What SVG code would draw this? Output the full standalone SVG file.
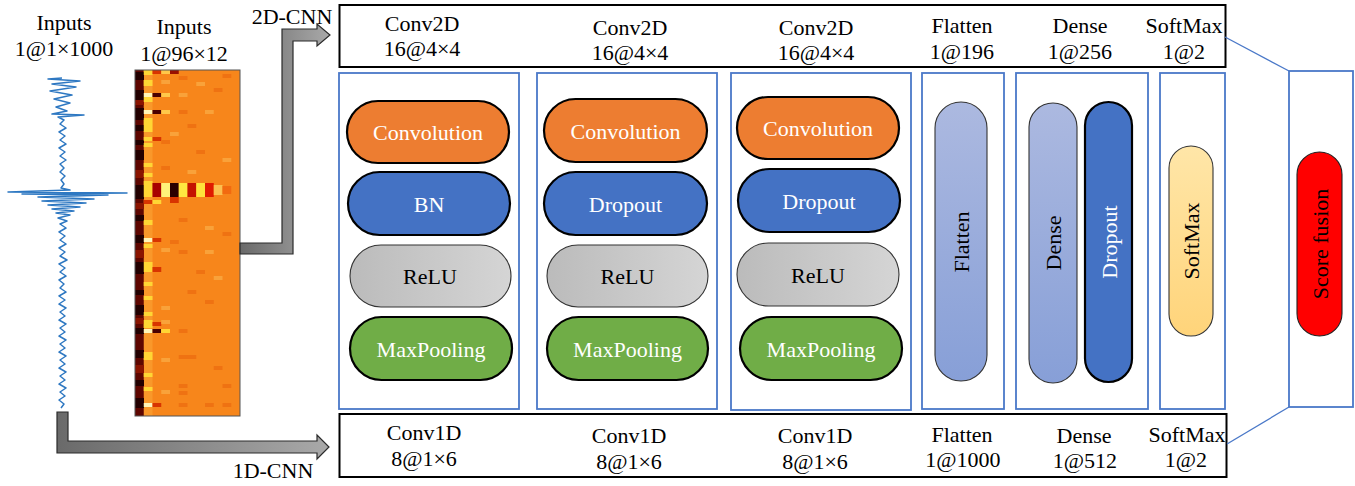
<svg xmlns="http://www.w3.org/2000/svg" width="1355" height="486" viewBox="0 0 1355 486">
<defs>
<linearGradient id="arrowGrad" x1="0" y1="0" x2="1" y2="0"><stop offset="0" stop-color="#6a6a6a"/><stop offset="1" stop-color="#a9a9a9"/></linearGradient>
<linearGradient id="reluGrad" x1="0" y1="0" x2="1" y2="0"><stop offset="0" stop-color="#bbbbbb"/><stop offset="1" stop-color="#d5d5d5"/></linearGradient>
<linearGradient id="blueGrad" x1="0" y1="0" x2="0" y2="1"><stop offset="0" stop-color="#acb9e0"/><stop offset="1" stop-color="#879fd7"/></linearGradient>
<linearGradient id="softGrad" x1="0" y1="0" x2="0" y2="1"><stop offset="0" stop-color="#ffe6a8"/><stop offset="1" stop-color="#ffd47a"/></linearGradient>
</defs>
<style>
text{font-family:"Liberation Serif","Times New Roman",serif;font-size:22px;text-anchor:middle;fill:#000}
.w{fill:#fff}
.box{fill:#fff;stroke:#000;stroke-width:2}
.frame{fill:#fff;stroke:#4a78c8;stroke-width:1.8}
.conv{fill:#ed7d31;stroke:#000;stroke-width:2.2}
.blue{fill:#4472c4;stroke:#000;stroke-width:2.2}
.relu{fill:url(#reluGrad);stroke:#333;stroke-width:1.1}
.pool{fill:#70ad47;stroke:#000;stroke-width:2.2}
.lb{fill:url(#blueGrad);stroke:#333;stroke-width:1.1}
.soft{fill:url(#softGrad);stroke:#333;stroke-width:1.1}
.fus{fill:#ff0000;stroke:#222;stroke-width:1.1}
.arrow{fill:url(#arrowGrad);stroke:#2b2b2b;stroke-width:1.2}
.link{fill:none;stroke:#4a78c8;stroke-width:1.3}
.dk{fill:#220000}.dr{fill:#8a1400}.ye{fill:#ffd634}.wy{fill:#fff6b8}.rd{fill:#d83400}.lo{fill:#f9a23a}.do{fill:#ef7212}.bk{fill:#4a0000}
</style>

<g id="input-signal">
<text x="64" y="30">Inputs</text>
<text x="64" y="56">1@1×1000</text>
<path fill="none" stroke="#2e78c2" stroke-width="1.5" stroke-linejoin="round" d="M62,78 L48,79 L80,81 L52,84 L76,87 L50,91 L72,95 L54,99 L70,103 L56,107 L67,111 L52,114 L84,115 L58,117 L64,120 L60,124 L66,128 L59,132 L65,136 L60,140 L66,144 L59,148 L65,152 L60,156 L66,160 L60,164 L64,168 L60,172 L65,176 L61,180 L64,184 L61,188 L70,190 L8,192 L127,193 L22,194 L108,195 L38,197 L94,199 L42,201 L86,203 L48,205 L80,207 L52,209 L74,211 L56,213 L70,215 L58,218 L67,221 L60,224 L66,228 L59,232 L65,236 L60,240 L66,244 L59,248 L65,252 L60,256 L67,260 L59,264 L65,268 L60,272 L66,276 L59,280 L64,284 L60,288 L66,292 L59,296 L65,300 L59,304 L66,308 L60,312 L65,316 L59,320 L66,324 L60,328 L65,332 L59,336 L66,340 L60,344 L65,348 L59,352 L66,356 L60,360 L65,364 L59,368 L66,372 L60,376 L65,380 L59,384 L66,388 L60,392 L65,396 L59,400 L64,404 L61,408"/>
</g>

<g id="input-heatmap">
<text x="184" y="34">Inputs</text>
<text x="184" y="61">1@96×12</text>
<rect x="135" y="70" width="105" height="346" fill="#f7861b"/>
<rect x="135" y="70" width="9" height="346" fill="#5e0600"/>
<rect x="143.75" y="70" width="8.75" height="346" fill="#f9982a"/>
<g>
<rect class="dk" x="135" y="72" width="9" height="8"/><rect class="dk" x="135" y="90" width="9" height="10"/><rect class="dk" x="135" y="108" width="9" height="12"/><rect class="dk" x="135" y="125" width="9" height="6"/><rect class="dk" x="135" y="140" width="9" height="5"/><rect class="dk" x="135" y="150" width="9" height="10"/><rect class="dk" x="135" y="185" width="9" height="14"/><rect class="dk" x="135" y="215" width="9" height="6"/><rect class="dk" x="135" y="235" width="9" height="8"/><rect class="dk" x="135" y="262" width="9" height="12"/><rect class="dk" x="135" y="290" width="9" height="5"/><rect class="dk" x="135" y="305" width="9" height="10"/><rect class="dk" x="135" y="328" width="9" height="6"/><rect class="dk" x="135" y="350" width="9" height="8"/><rect class="dk" x="135" y="380" width="9" height="6"/><rect class="dk" x="135" y="398" width="9" height="10"/>
<rect class="dr" x="135" y="100" width="9" height="5"/><rect class="dr" x="135" y="170" width="9" height="8"/><rect class="dr" x="135" y="203" width="9" height="6"/><rect class="dr" x="135" y="250" width="9" height="8"/><rect class="dr" x="135" y="318" width="9" height="6"/><rect class="dr" x="135" y="365" width="9" height="8"/>
<rect class="ye" x="143.75" y="70" width="8.75" height="5"/><rect class="ye" x="143.75" y="80" width="8.75" height="6"/><rect class="ye" x="143.75" y="97" width="8.75" height="5"/><rect class="ye" x="143.75" y="118" width="8.75" height="14"/><rect class="ye" x="143.75" y="137" width="8.75" height="4"/><rect class="ye" x="143.75" y="143" width="8.75" height="4"/><rect class="ye" x="143.75" y="163" width="8.75" height="4"/><rect class="ye" x="143.75" y="173" width="8.75" height="4"/><rect class="ye" x="143.75" y="181" width="8.75" height="16"/><rect class="ye" x="143.75" y="220" width="8.75" height="5"/><rect class="ye" x="143.75" y="244" width="8.75" height="4"/><rect class="ye" x="143.75" y="262" width="8.75" height="10"/><rect class="ye" x="143.75" y="282" width="8.75" height="4"/><rect class="ye" x="143.75" y="296" width="8.75" height="4"/><rect class="ye" x="143.75" y="312" width="8.75" height="4"/><rect class="ye" x="143.75" y="320" width="8.75" height="8"/><rect class="ye" x="143.75" y="352" width="8.75" height="8"/><rect class="ye" x="143.75" y="373" width="8.75" height="4"/><rect class="ye" x="143.75" y="387" width="8.75" height="4"/>
<rect class="wy" x="143.75" y="93" width="8.75" height="4"/><rect class="wy" x="143.75" y="110" width="8.75" height="4"/><rect class="wy" x="143.75" y="238" width="8.75" height="4"/><rect class="wy" x="143.75" y="329" width="8.75" height="4"/><rect class="wy" x="143.75" y="403" width="8.75" height="4"/>
<rect class="rd" x="143.75" y="200" width="8.75" height="4"/>
<rect class="rd" x="152.5" y="70" width="8.75" height="4"/><rect class="bk" x="152.5" y="93" width="8.75" height="4"/><rect class="bk" x="152.5" y="110" width="8.75" height="4"/><rect class="rd" x="152.5" y="137" width="8.75" height="4"/><rect fill="#a80000" x="152.5" y="183" width="8.75" height="14"/><rect class="ye" x="152.5" y="200" width="8.75" height="4"/><rect class="rd" x="152.5" y="238" width="8.75" height="4"/><rect class="rd" x="152.5" y="267" width="8.75" height="5"/><rect class="rd" x="152.5" y="322" width="8.75" height="4"/><rect class="bk" x="152.5" y="329" width="8.75" height="4"/><rect class="rd" x="152.5" y="403" width="8.75" height="4"/>
<rect fill="#ffc84a" x="161.25" y="70" width="8.75" height="4"/><rect fill="#ffc84a" x="161.25" y="93" width="8.75" height="4"/><rect fill="#ffc84a" x="161.25" y="110" width="8.75" height="4"/><rect fill="#fff27a" x="161.25" y="183" width="8.75" height="14"/><rect fill="#ffc84a" x="161.25" y="329" width="8.75" height="4"/>
<rect fill="#9a1000" x="170" y="70" width="8.75" height="4"/><rect fill="#2a0000" x="170" y="183" width="8.75" height="14"/><rect class="rd" x="170" y="197" width="8.75" height="6"/>
<rect fill="#ffe640" x="178.75" y="183" width="8.75" height="14"/><rect class="lo" x="178.75" y="93" width="8.75" height="4"/>
<rect fill="#c41200" x="187.5" y="183" width="8.75" height="14"/>
<rect fill="#ffe23a" x="196.25" y="183" width="8.75" height="14"/>
<rect fill="#e01a00" x="205" y="183" width="8.75" height="14"/>
<rect fill="#fcc050" x="213.75" y="185" width="8.75" height="10"/>
<rect fill="#f26a10" x="222.5" y="186" width="8.75" height="8"/>
<rect class="lo" x="161.25" y="80" width="8.75" height="4"/><rect class="do" x="178.75" y="76" width="8.75" height="4"/><rect class="lo" x="196.25" y="82" width="8.75" height="4"/><rect class="do" x="213.75" y="88" width="8.75" height="4"/><rect class="do" x="222.5" y="74" width="8.75" height="4"/>
<rect class="do" x="178.75" y="110" width="8.75" height="4"/><rect class="lo" x="205" y="110" width="8.75" height="4"/><rect class="do" x="187.5" y="124" width="8.75" height="4"/><rect class="lo" x="170" y="132" width="8.75" height="4"/><rect class="do" x="161.25" y="140" width="8.75" height="4"/>
<rect class="do" x="196.25" y="150" width="8.75" height="4"/><rect class="lo" x="222.5" y="158" width="8.75" height="4"/><rect class="do" x="161.25" y="166" width="8.75" height="4"/><rect class="lo" x="187.5" y="170" width="8.75" height="4"/>
<rect class="do" x="178.75" y="218" width="8.75" height="4"/><rect class="lo" x="205" y="226" width="8.75" height="4"/><rect class="do" x="222.5" y="232" width="8.75" height="4"/><rect class="do" x="170" y="240" width="8.75" height="4"/>
<rect class="lo" x="161.25" y="248" width="8.75" height="4"/><rect class="do" x="178.75" y="250" width="8.75" height="4"/><rect class="lo" x="205" y="250" width="8.75" height="4"/><rect class="do" x="196.25" y="270" width="8.75" height="4"/><rect class="lo" x="213.75" y="276" width="8.75" height="4"/>
<rect class="do" x="187.5" y="290" width="8.75" height="4"/><rect class="do" x="205" y="300" width="8.75" height="4"/><rect class="lo" x="161.25" y="306" width="8.75" height="4"/><rect class="lo" x="161.25" y="320" width="8.75" height="4"/><rect class="ye" x="161.25" y="329" width="8.75" height="4"/>
<rect class="do" x="178.75" y="329" width="8.75" height="4"/><rect class="do" x="178.75" y="355" width="17.5" height="4"/><rect class="lo" x="161.25" y="358" width="8.75" height="4"/><rect class="do" x="213.75" y="366" width="8.75" height="4"/>
<rect class="do" x="178.75" y="384" width="8.75" height="4"/><rect class="lo" x="161.25" y="390" width="8.75" height="4"/><rect class="do" x="178.75" y="391" width="8.75" height="4"/><rect class="do" x="222.5" y="384" width="8.75" height="4"/><rect class="do" x="178.75" y="403" width="8.75" height="4"/><rect class="do" x="205" y="403" width="8.75" height="4"/><rect class="do" x="222.5" y="403" width="8.75" height="4"/>
</g>
<rect x="135" y="70" width="105" height="346" fill="none" stroke="#555" stroke-width="1"/>
</g>

<g id="top-box">
<rect class="box" x="339.5" y="5" width="886" height="62"/>
<text x="422" y="31">Conv2D</text><text x="422" y="56">16@4×4</text>
<text x="630" y="35">Conv2D</text><text x="630" y="60">16@4×4</text>
<text x="816" y="35">Conv2D</text><text x="816" y="60">16@4×4</text>
<text x="962" y="33">Flatten</text><text x="962" y="59">1@196</text>
<text x="1080" y="33">Dense</text><text x="1080" y="59">1@256</text>
<text x="1184" y="33">SoftMax</text><text x="1184" y="59">1@2</text>
</g>

<g id="bottom-box">
<rect class="box" x="339.5" y="414" width="887" height="63"/>
<text x="424" y="440">Conv1D</text><text x="424" y="466">8@1×6</text>
<text x="629" y="443">Conv1D</text><text x="629" y="469">8@1×6</text>
<text x="815" y="443">Conv1D</text><text x="815" y="469">8@1×6</text>
<text x="962" y="442">Flatten</text><text x="963" y="467">1@1000</text>
<text x="1084" y="443">Dense</text><text x="1085" y="468">1@512</text>
<text x="1187" y="442">SoftMax</text><text x="1186" y="467">1@2</text>
</g>

<g id="block1">
<rect class="frame" x="339" y="73" width="180" height="336"/>
<rect class="conv" x="347" y="101" width="162" height="62" rx="31"/><text class="w" x="428" y="140">Convolution</text>
<rect class="blue" x="348" y="172" width="162" height="63" rx="31.5"/><text class="w" x="429" y="212">BN</text>
<rect class="relu" x="350" y="245" width="161" height="62" rx="31"/><text x="430" y="284">ReLU</text>
<rect class="pool" x="350" y="317" width="162" height="63" rx="31.5"/><text class="w" x="431" y="357">MaxPooling</text>
</g>

<g id="block2">
<rect class="frame" x="537" y="73" width="180" height="336"/>
<rect class="conv" x="544" y="99" width="163" height="63" rx="31.5"/><text class="w" x="625.5" y="139">Convolution</text>
<rect class="blue" x="544" y="172" width="163" height="63" rx="31.5"/><text class="w" x="625.5" y="212">Dropout</text>
<rect class="relu" x="547" y="245" width="161" height="62" rx="31"/><text x="627.5" y="284">ReLU</text>
<rect class="pool" x="547" y="317" width="161" height="63" rx="31.5"/><text class="w" x="627.5" y="357">MaxPooling</text>
</g>

<g id="block3">
<rect class="frame" x="731" y="73" width="180" height="337"/>
<rect class="conv" x="737" y="97" width="162" height="62" rx="31"/><text class="w" x="818" y="136">Convolution</text>
<rect class="blue" x="738" y="169" width="162" height="63" rx="31.5"/><text class="w" x="819" y="209">Dropout</text>
<rect class="relu" x="737" y="243" width="162" height="63" rx="31.5"/><text x="818" y="283">ReLU</text>
<rect class="pool" x="740" y="317" width="162" height="63" rx="31.5"/><text class="w" x="821" y="357">MaxPooling</text>
</g>

<g id="flatten">
<rect class="frame" x="922" y="73" width="82" height="336"/>
<rect class="lb" x="935" y="102" width="52" height="279" rx="26"/>
<text transform="translate(961,242) rotate(-90)" x="0" y="8">Flatten</text>
</g>

<g id="dense">
<rect class="frame" x="1016" y="73" width="132" height="336"/>
<rect class="lb" x="1029" y="103" width="48" height="280" rx="24"/>
<text transform="translate(1053,243) rotate(-90)" x="0" y="8">Dense</text>
<rect class="blue" x="1085" y="102" width="47" height="280" rx="23.5" stroke-width="2.6"/>
<text class="w" transform="translate(1108.5,242) rotate(-90)" x="0" y="8">Dropout</text>
</g>

<g id="softmax">
<rect class="frame" x="1160" y="73" width="65" height="336"/>
<rect class="soft" x="1169" y="146" width="44" height="190" rx="22"/>
<text transform="translate(1191,241) rotate(-90)" x="0" y="8">SoftMax</text>
</g>

<g id="score-fusion">
<rect class="frame" x="1289" y="71" width="64" height="336"/>
<rect class="fus" x="1297" y="152" width="45" height="184" rx="22.5"/>
<text transform="translate(1319.5,244) rotate(-90)" x="0" y="8">Score fusion</text>
</g>

<g id="connectors">
<path class="arrow" d="M240,243 L282,243 L282,29 L317,29 L317,24 L330,35 L317,46 L317,41 L293,41 L293,254 L240,254 Z"/>
<text x="292" y="24">2D-CNN</text>
<path class="arrow" d="M57,412 L68,412 L68,441 L317,441 L317,435 L329,447 L317,459 L317,453 L57,453 Z"/>
<text x="273" y="478">1D-CNN</text>
<line class="link" x1="1225" y1="37" x2="1289" y2="71"/>
<line class="link" x1="1227" y1="444" x2="1289" y2="407"/>
</g>
</svg>
